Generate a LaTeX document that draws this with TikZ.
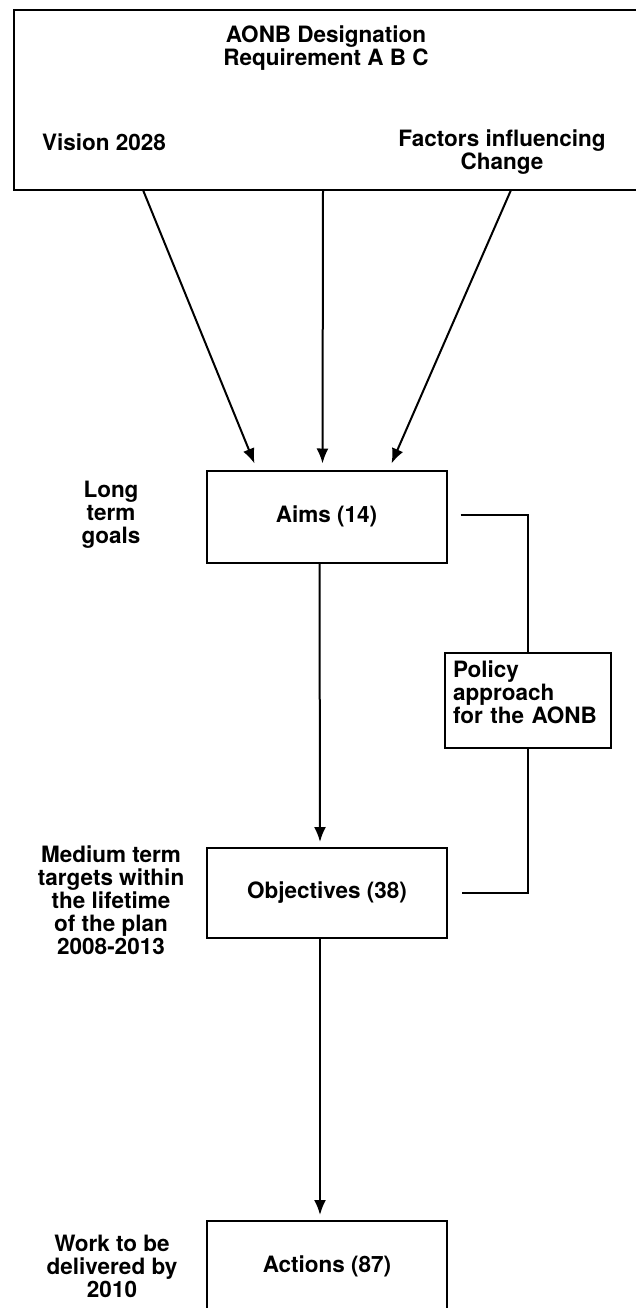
\documentclass[tikz,border=0pt]{standalone}
\usepackage{fontspec}
\setmainfont{TeX Gyre Heros}
\usetikzlibrary{arrows.meta}
\begin{document}
\begin{tikzpicture}[x=1pt,y=-1pt,inner sep=0pt,outer sep=0pt,line width=2pt,
font=\fontsize{22.5}{23}\selectfont\bfseries,
stageblock/.style={draw,rectangle,minimum width=240pt,minimum height=92pt},
note/.style={align=center},
arr/.style={-{Latex[length=15pt,width=12pt]}}]
\useasboundingbox (0,0) rectangle (635,1308);
\node[draw,rectangle,minimum width=630pt,minimum height=180pt,anchor=north west] (src) at (14,10) {};
\node[note] (desig) at (326,48) {AONB Designation\\Requirement A B C};
\node (vision) at (104,142) {Vision 2028};
\node[note] (factors) at (502,152) {Factors influencing\\Change};
\coordinate (v1) at ([xshift=129pt]src.south west);
\coordinate (v2) at ([xshift=309pt]src.south west);
\coordinate (v3) at ([xshift=497pt]src.south west);
\node[stageblock] (aims) at (326.5,516.5) {Aims (14)};
\node[stageblock,minimum height=90pt] (objectives) at (327,893) {Objectives (38)};
\node[stageblock,minimum height=90pt] (actions) at (327,1266) {Actions (87)};
\node[draw,rectangle,minimum width=166pt,minimum height=95pt,text width=150pt,align=left] (policy) at (528,700) {Policy\\approach\\for the AONB\rule[-16pt]{0pt}{1pt}};
\node[note] (longterm) at (111,515) {Long\\term\\goals};
\node[note] (medterm) at (111,900) {Medium term\\targets within\\the lifetime\\of the plan\\2008-2013};
\node[note] (work) at (112,1266) {Work to be\\delivered by\\2010};
\draw[arr] (v1) -- ([xshift=48pt,yshift=7pt]aims.north west);
\draw[arr] (v2) -- ([xshift=116pt,yshift=7pt]aims.north west);
\draw[arr] (v3) -- ([xshift=185pt,yshift=7pt]aims.north west);
\draw[arr] ([xshift=-7pt]aims.south) -- ([xshift=-7pt,yshift=6pt]objectives.north);
\draw[arr] ([xshift=-7pt]objectives.south) -- ([xshift=-7pt,yshift=6pt]actions.north);
\draw ([xshift=14pt,yshift=2pt]aims.east) -| (policy.north);
\draw (policy.south) |- ([xshift=15pt]objectives.east);
\end{tikzpicture}
\end{document}
